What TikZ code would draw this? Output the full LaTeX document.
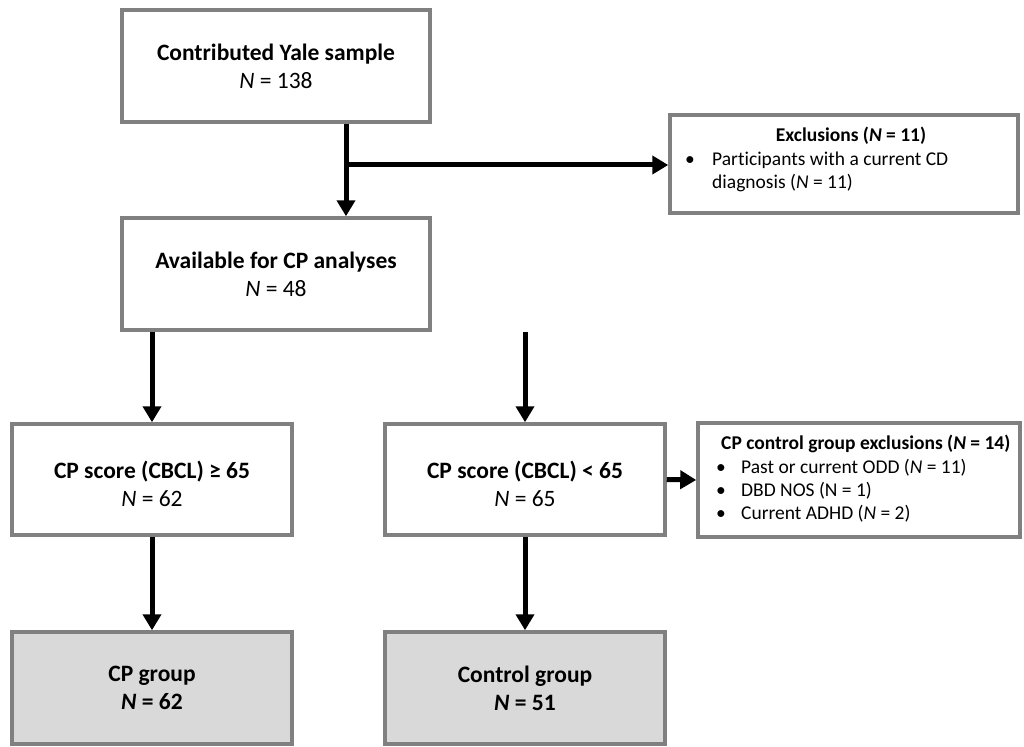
\documentclass[tikz,border=0pt]{standalone}
\usepackage{fontspec}
\setmainfont[Ligatures=NoCommon]{Carlito}
\usetikzlibrary{arrows.meta}
\definecolor{boxgray}{RGB}{128,128,128}
\definecolor{fillgray}{RGB}{217,217,217}
\tikzset{
  mainbox/.style={draw=boxgray, line width=3.5pt, fill=white, inner sep=0pt, align=center, font=\fontsize{23.5}{28}\selectfont},
  endbox/.style={mainbox, fill=fillgray},
  exclbox/.style={draw=boxgray, line width=3.5pt, fill=white, inner sep=0pt},
  excltext/.style={font=\fontsize{19.5}{22}\selectfont, inner sep=0pt, anchor=base west},
  flow/.style={line width=5pt, -{Triangle[length=16pt,width=18pt]}},
}
\begin{document}
\begin{tikzpicture}[x=1pt,y=-1pt]
\useasboundingbox (0,0) rectangle (1024,746);
% boxes
\node[mainbox, minimum width=308pt, minimum height=112pt] (yale) at (276,66) {\textbf{Contributed Yale sample}\\\textit{N} = 138};
\node[mainbox, minimum width=308pt, minimum height=112pt] (avail) at (276,274) {\textbf{Available for CP analyses}\\\textit{N} = 48};
\node[mainbox, minimum width=280pt, minimum height=111pt] (high) at (152,479.5) {\rule{0pt}{26pt}\textbf{CP score (CBCL) ≥ 65}\\\textit{N} = 62};
\node[mainbox, minimum width=280pt, minimum height=111pt] (low) at (525,479.5) {\rule{0pt}{26pt}\textbf{CP score (CBCL) < 65}\\\textit{N} = 65};
\node[endbox, minimum width=280pt, minimum height=112pt] (cpg) at (152,688) {\textbf{CP group}\\\textbf{\textit{N} = 62}};
\node[endbox, minimum width=280pt, minimum height=112pt] (ctrl) at (525,688) {\textbf{Control group}\\\textbf{\textit{N} = 51}};
\node[exclbox, minimum width=348pt, minimum height=98pt] (ex1) at (844,164) {};
\node[exclbox, minimum width=322pt, minimum height=114pt] (ex2) at (859,480) {};
% exclusion texts
\node[excltext, anchor=base] (ex1t) at (851,142) {\textbf{Exclusions (\textit{N} = 11)}};
\node[excltext] (ex1b1) at (685,166) {•};
\node[excltext] (ex1l1) at (712,166) {Participants with a current CD};
\node[excltext] (ex1l2) at (712,188) {diagnosis (\textit{N} = 11)};
\node[excltext] (ex2t) at (721,449) {\textbf{CP control group exclusions (\textit{N} = 14)}};
\node[excltext] (ex2b1) at (716,473) {•};
\node[excltext] (ex2l1) at (741,473) {Past or current ODD (\textit{N} = 11)};
\node[excltext] (ex2b2) at (716,496) {•};
\node[excltext] (ex2l2) at (741,496) {DBD NOS (N = 1)};
\node[excltext] (ex2b3) at (716,519) {•};
\node[excltext] (ex2l3) at (741,519) {Current ADHD (\textit{N} = 2)};
% connectors
\coordinate (split) at (346,165);
\draw[flow] ([xshift=70pt]yale.south) -- ([xshift=70pt]avail.north);
\draw[flow] (split) -- (ex1.west |- split);
\draw[flow] (avail.south -| high.north) -- (high.north);
\draw[flow] (avail.south -| low.north) -- (low.north);
\draw[flow] (high.south) -- (cpg.north);
\draw[flow] (low.south) -- (ctrl.north);
\draw[flow] (low.east) -- (ex2.west);
\end{tikzpicture}
\end{document}
